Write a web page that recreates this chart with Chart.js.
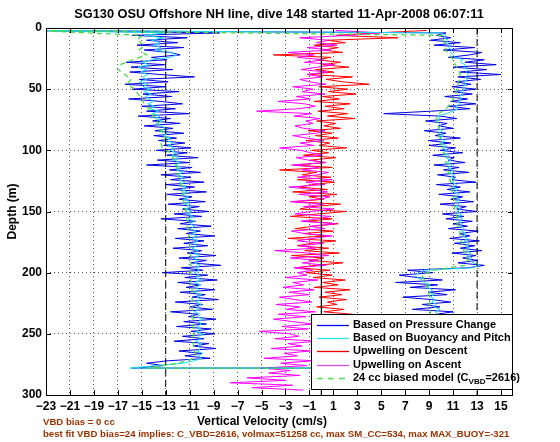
<!DOCTYPE html>
<html>
<head>
<meta charset="utf-8">
<script src="https://cdn.jsdelivr.net/npm/chart.js@4.4.1/dist/chart.umd.min.js"></script>
<style>
  html, body { margin: 0; padding: 0; background: #fff; }
</style>
</head>
<body>
<canvas id="dive_chart" width="560" height="442"></canvas>
<script>
// sample grids (depth in m)
function range(a, b, step) {
  const out = []
  if (step > 0) { for (let v = a; v <= b; v += step) out.push(v) }
  else { for (let v = a; v >= b; v += step) out.push(v) }
  return out
}
const downDepth = range(2, 278, 2)
const upDepth = range(278, 2, -2)
const modelDownDepth = range(2, 278, 4)
const modelUpDepth = range(278, 2, -4)
const redDepth = range(2, 280, 2)
const magentaDepth = range(296, 2, -2)

const xTicks = [-23, -21, -19, -17, -15, -13, -11, -9, -7, -5, -3, -1, 1, 3, 5, 7, 9, 11, 13, 15]
const xTickLabels = ['\u221223', '\u221221', '\u221219', '\u221217', '\u221215', '\u221213', '\u221211', '\u22129', '\u22127', '\u22125', '\u22123', '\u22121', '1', '3', '5', '7', '9', '11', '13', '15']
const yTicks = [0, 50, 100, 150, 200, 250, 300]
const refLines = [-13, 0, 13]

// Based on Pressure Change
const pressDown = [
  -25, -8.5, -15.8, -11.2, -14.6, -12.0, -15.4, -11.5, -14.8, -12.6,
  -11.8, -14.2, -12.9, -16.3, -13.1, -15.9, -12.4, -16.0, -13.5, -10.6,
  -15.2, -12.8, -16.4, -13.0, -15.8, -11.9, -14.9, -12.5, -16.1, -13.4,
  -11.6, -15.0, -12.2, -14.6, -11.0, -15.3, -12.6, -14.1, -11.8, -14.8,
  -12.4, -13.9, -11.5, -14.0, -12.1, -13.6, -11.4, -13.2, -10.9, -13.8,
  -11.2, -12.9, -10.3, -13.7, -11.0, -14.6, -10.8, -12.7, -10.1, -13.4,
  -10.9, -12.6, -9.8, -13.0, -10.6, -12.4, -9.6, -12.9, -10.8, -11.9,
  -9.7, -12.8, -10.2, -11.6, -9.4, -12.3, -10.0, -13.4, -10.5, -11.8,
  -9.2, -12.0, -10.1, -11.3, -8.9, -12.2, -9.8, -11.5, -9.5, -12.4,
  -10.0, -11.2, -8.8, -11.9, -9.6, -10.9, -8.4, -11.7, -9.9, -13.3,
  -9.5, -11.4, -8.7, -12.0, -10.1, -11.3, -8.9, -11.8, -9.7, -10.8,
  -8.6, -12.2, -9.9, -11.0, -9.1, -12.6, -10.3, -11.1, -8.8, -11.5,
  -9.6, -12.1, -9.2, -10.9, -8.9, -11.6, -9.8, -12.3, -9.4, -10.7,
  -8.8, -11.9, -10.0, -11.4, -9.3, -12.8, -14.6, -13.2, -15.8
]
const pressUp = [
  9.8, 8.6, 10.9, 9.2, 11.3, 8.4, 10.2, 9.0, 11.6, 9.5,
  8.2, 10.7, 9.4, 11.1, 8.8, 10.0, 7.9, 10.6, 9.1, 11.4,
  8.7, 10.3, 9.6, 11.0, 7.6, 9.9, 8.4, 10.8, 9.2, 6.8,
  10.5, 8.9, 11.2, 7.4, 9.7, 6.2, 10.1, 8.0, 6.5, 9.3,
  7.2, 12.3, 13.6, 11.4, 13.0, 11.8, 12.9, 10.9, 13.4, 11.6,
  12.8, 11.1, 13.2, 10.7, 12.4, 11.5, 13.1, 10.6, 12.2, 11.0,
  12.6, 10.4, 11.9, 10.1, 13.0, 11.3, 12.1, 9.9, 12.7, 10.8,
  11.8, 9.8, 12.4, 10.5, 11.6, 9.6, 12.9, 10.9, 11.2, 9.7,
  12.3, 10.2, 11.5, 9.4, 12.0, 10.6, 11.1, 9.3, 11.8, 9.9,
  11.2, 9.0, 10.8, 8.9, 11.6, 9.5, 10.4, 8.6, 11.0, 9.8,
  10.5, 8.7, 11.3, 9.9, 5.2, 9.2, 12.4, 10.6, 12.9, 10.8,
  12.2, 10.3, 12.6, 11.0, 12.9, 10.9, 12.5, 11.2, 13.3, 11.4,
  15.0, 11.6, 13.8, 11.0, 14.6, 12.0, 13.6, 10.6, 12.4, 13.4,
  10.2, 12.8, 9.4, 11.6, 9.1, 10.8, 9.6, 10.4, -25
]

// Based on Buoyancy and Pitch
const buoyDown = [
  -24, -13.0, -14.8, -13.2, -14.2, -13.5, -14.0, -13.4, -13.9, -12.6,
  -12.1, -12.6, -14.2, -15.0, -14.4, -15.3, -14.6, -15.1, -14.5, -14.9,
  -14.6, -15.2, -14.5, -14.9, -14.3, -14.8, -14.2, -14.7, -14.4, -14.0,
  -14.5, -13.9, -14.3, -13.6, -14.1, -13.5, -13.9, -13.3, -13.8, -13.4,
  -13.0, -13.5, -12.8, -13.2, -12.6, -12.9, -12.4, -12.8, -12.3, -12.6,
  -12.1, -12.5, -11.9, -12.3, -11.8, -12.2, -11.7, -12.1, -11.6, -12.0,
  -11.5, -11.9, -11.4, -11.8, -11.3, -11.7, -11.2, -11.6, -11.1, -11.5,
  -11.0, -11.4, -10.9, -11.3, -10.8, -11.2, -10.7, -11.1, -10.6, -11.0,
  -10.6, -10.9, -10.5, -10.8, -10.4, -10.8, -10.3, -10.7, -10.4, -10.8,
  -10.3, -10.6, -10.2, -10.7, -10.3, -10.6, -10.1, -10.5, -10.2, -10.6,
  -10.2, -10.5, -10.0, -10.6, -10.1, -10.5, -10.2, -10.6, -10.0, -10.4,
  -10.1, -10.5, -10.0, -10.4, -10.2, -10.6, -10.1, -10.4, -9.9, -10.3,
  -10.0, -10.4, -10.1, -10.5, -9.9, -10.3, -10.1, -10.5, -10.0, -10.3,
  -10.1, -10.4, -9.9, -10.3, -10.0, -10.6, -11.5, -13.8, -16.0
]
const buoyUp = [
  9.6, 9.3, 9.8, 9.4, 9.9, 9.5, 9.7, 9.3, 9.8, 9.4,
  9.6, 9.2, 9.7, 9.4, 9.9, 9.5, 9.8, 9.3, 9.6, 9.4,
  9.7, 9.3, 9.8, 9.5, 9.9, 9.4, 9.6, 9.2, 9.5, 9.1,
  9.4, 9.0, 9.3, 8.8, 9.1, 8.6, 8.4, 8.0, 7.8, 8.2,
  8.6, 12.6, 13.2, 12.7, 12.4, 12.6, 12.2, 12.5, 12.1, 12.4,
  12.0, 12.3, 11.9, 12.2, 11.8, 12.1, 11.7, 11.9, 11.6, 11.8,
  11.5, 11.8, 11.4, 11.7, 11.3, 11.6, 11.2, 11.5, 11.3, 11.6,
  11.2, 11.5, 11.1, 11.4, 11.0, 11.3, 10.9, 11.2, 10.8, 11.1,
  10.7, 11.0, 10.6, 10.9, 10.5, 10.8, 10.4, 10.6, 10.2, 10.5,
  10.1, 10.4, 10.0, 10.3, 9.9, 10.2, 9.8, 10.1, 9.8, 10.0,
  9.8, 9.6, 9.9, 9.7, 10.4, 11.0, 11.4, 11.2, 11.6, 11.4,
  11.7, 11.5, 11.8, 11.6, 12.0, 11.8, 12.1, 11.9, 12.2, 12.0,
  12.3, 12.1, 12.2, 11.9, 12.0, 11.6, 11.8, 11.2, 11.0, 10.8,
  10.9, 10.6, 10.8, 10.4, 10.6, 10.2, 10.4, 10.0, -24
]

// Upwelling on Descent / Ascent
const upwellDown = [
  8.8, 4.6, 1.2, 6.4, 0.5, 2.0, -0.6, 1.4, 0.2, 1.8,
  -4.0, 0.8, -0.4, 1.6, 0.1, 2.3, -0.5, 1.0, -1.2, 2.6,
  0.4, 1.8, 4.0, -0.2, 2.2, 0.6, 2.9, 0.1, 1.5, -0.6,
  2.4, 0.3, 1.9, -0.3, 2.2, 0.5, 2.8, -0.4, 1.2, 0.2,
  1.6, -1.1, 0.9, -0.5, 1.4, -1.3, 0.7, -0.2, 2.1, -0.8,
  0.6, -1.5, 1.2, -0.9, 0.3, -2.2, 0.9, -3.5, -0.4, -1.6,
  0.8, -2.0, 1.1, -0.7, -1.9, 0.5, -2.4, 1.3, -1.0, 0.2,
  -2.3, 1.6, -0.8, -1.8, 2.1, -0.3, -2.6, 0.9, -1.2, 1.4,
  -0.6, -2.2, 1.0, -1.5, 0.4, -2.8, 1.2, -0.9, -2.0, 0.6,
  -1.4, 1.5, -2.5, 0.2, -1.0, 1.8, -0.5, -2.1, 0.7, -1.3,
  0.9, -0.7, 2.0, 0.1, 1.4, -0.6, 2.4, 0.3, 1.7, -0.2,
  2.1, 0.5, 1.3, -0.4, 1.9, 0.2, 2.6, 0.6, 1.2, -0.3,
  1.8, 0.4, 2.2, -0.1, 1.5, 0.7, 2.0, 0.0, 1.6, -0.5,
  1.3, 0.3, 2.1, 0.5, 1.0, -0.2, 1.8, 0.4, 1.1, 0.6
]
const upwellUp = [
  -1.5, -5.8, -2.4, -7.6, -3.0, -6.2, -1.8, -4.4, -2.6, -5.0,
  -1.2, -3.4, -0.6, -4.8, -2.0, -3.1, -0.9, -4.2, -1.6, -2.8,
  -0.4, -3.9, -1.9, -2.6, -5.2, -1.1, -3.3, -0.7, -2.4, -4.0,
  -1.3, -3.6, -0.5, -2.9, -1.8, -3.8, -0.8, -2.2, -3.5, -1.0,
  -2.7, -0.6, -3.2, -1.5, -2.4, -0.3, -3.0, -1.2, -2.0, -0.7,
  -2.3, 0.4, -1.6, -0.2, -2.6, 0.6, -1.1, -3.9, -0.5, -1.8,
  0.2, -2.0, -0.7, 0.9, -1.4, -2.5, 0.3, -1.0, 1.2, -1.7,
  -0.4, 0.8, -2.2, -0.9, 1.0, -1.5, 0.2, -2.6, -0.1, 0.7,
  -1.9, 0.5, -0.8, -2.7, 0.3, -1.3, 0.9, -2.0, -0.3, 0.6,
  -1.6, -0.2, -2.5, 0.4, -1.1, -2.1, 0.1, -0.9, -1.7, -3.5,
  -0.6, -1.8, 0.2, -1.2, -2.4, -0.4, 0.3, -1.5, -2.2, -0.7,
  -1.3, -0.1, -2.3, -0.8, -5.4, -1.9, -0.5, -1.4, -3.6, -0.9,
  -2.1, 0.3, -1.6, -0.7, -2.4, 0.4, -1.0, -1.8, 0.1, -1.2,
  0.5, -1.7, -0.3, 1.1, -1.4, 0.2, -2.0, -0.6, -2.8, 0.8,
  -1.2, 1.3, -0.4, 0.6, -1.8, 2.4, 4.9, 1.2
]

// 24 cc biased model
const modelDown = [
  -24, -15.0, -15.4, -14.8, -15.2, -14.6, -15.8, -16.8, -17.0, -16.4,
  -15.9, -16.2, -15.6, -15.3, -15.0, -14.8, -14.4, -14.2, -13.9, -13.6,
  -13.6, -13.2, -13.0, -13.4, -13.3, -12.6, -12.4, -12.2, -12.1, -12.0,
  -11.9, -11.8, -11.7, -11.6, -11.6, -11.5, -11.4, -11.3, -11.3, -11.2,
  -11.2, -11.1, -11.1, -11.0, -11.0, -11.0, -10.9, -10.9, -10.9, -10.9,
  -10.9, -10.9, -10.9, -10.8, -10.8, -10.8, -10.8, -10.8, -10.8, -10.7,
  -10.7, -10.7, -10.7, -10.7, -10.7, -10.6, -10.6, -10.6, -12.0, -14.5
]
const modelUp = [
  9.4, 9.3, 9.4, 9.3, 9.3, 9.2, 9.3, 9.2, 9.2, 9.1,
  9.2, 9.1, 9.1, 9.0, 9.1, 9.0, 8.9, 8.8, 8.6, 8.4,
  9.4, 12.0, 12.2, 12.0, 11.9, 11.8, 11.7, 11.6, 11.5, 11.4,
  11.3, 11.3, 11.2, 11.1, 11.1, 11.0, 10.9, 10.9, 10.8, 10.7,
  10.6, 10.5, 10.4, 10.3, 10.2, 10.1, 10.0, 9.9, 9.8, 9.8,
  9.7, 9.6, 9.8, 10.4, 10.8, 11.0, 11.2, 11.3, 11.4, 11.5,
  11.6, 11.4, 11.2, 11.0, 10.7, 10.4, 10.3, 10.2, 10.1, -24
]

const legendItems = [
  { text: 'Based on Pressure Change', color: '#0000e0', dash: [] },
  { text: 'Based on Buoyancy and Pitch', color: '#30e0f0', dash: [] },
  { text: 'Upwelling on Descent', color: '#ee0000', dash: [] },
  { text: 'Upwelling on Ascent', color: '#cc55dd', dash: [] },
  { text: '24 cc biased model (C', sub: 'VBD', after: '=2616)', color: '#55dd55', dash: [6, 5] }
]
const titleText = 'SG130 OSU Offshore NH line, dive 148 started 11-Apr-2008 06:07:11'
const xTitle = 'Vertical Velocity (cm/s)'
const yTitle = 'Depth (m)'
const notes = ['VBD bias = 0 cc', 'best fit VBD bias=24 implies: C_VBD=2616, volmax=51258 cc, max SM_CC=534, max MAX_BUOY=-321']

function pts(depths, values) {
  return values.map((v, i) => ({ x: v, y: depths[i] }))
}
function trace(label, points, color, extra) {
  return Object.assign({
    label: label,
    data: points,
    showLine: true,
    borderColor: color,
    backgroundColor: color,
    borderWidth: 1,
    pointRadius: 0,
    tension: 0,
    clip: 0
  }, extra || {})
}

const FONT = '"Liberation Sans", Arial, Helvetica, sans-serif'

const datasets = []
refLines.forEach(v => {
  datasets.push(trace('ref', [{ x: v, y: 0 }, { x: v, y: 300 }], '#000', v === 0 ? {} : { borderDash: [7, 4] }))
})
datasets.push(trace('24 cc biased model', pts(modelDownDepth, modelDown).concat(pts(modelUpDepth, modelUp)), '#44dd44', { borderDash: [5, 4], borderWidth: 1.3 }))
datasets.push(trace('Based on Buoyancy and Pitch', pts(downDepth, buoyDown).concat(pts(upDepth, buoyUp)), '#20dcf0'))
datasets.push(trace('Based on Pressure Change', pts(downDepth, pressDown).concat(pts(upDepth, pressUp)), '#0000e0'))
datasets.push(trace('Upwelling on Ascent', pts(magentaDepth, upwellUp), '#ff00ff'))
datasets.push(trace('Upwelling on Descent', pts(redDepth, upwellDown), '#ff0000'))

const decor = {
  id: 'decor',
  afterDatasetsDraw(chart) {
    const ctx = chart.ctx
    const a = chart.chartArea
    const xs = chart.scales.x
    const ys = chart.scales.y
    ctx.save()
    ctx.strokeStyle = '#000'
    ctx.lineWidth = 1
    ctx.setLineDash([])
    ctx.beginPath()
    xTicks.forEach(v => {
      const px = Math.round(xs.getPixelForValue(v)) + 0.5
      ctx.moveTo(px, a.bottom); ctx.lineTo(px, a.bottom - 5)
      ctx.moveTo(px, a.top); ctx.lineTo(px, a.top + 5)
    })
    yTicks.forEach(v => {
      const py = Math.round(ys.getPixelForValue(v)) + 0.5
      ctx.moveTo(a.left, py); ctx.lineTo(a.left + 5, py)
      ctx.moveTo(a.right, py); ctx.lineTo(a.right - 5, py)
    })
    ctx.stroke()
    ctx.strokeRect(a.left + 0.5, a.top + 0.5, a.right - a.left - 1, a.bottom - a.top)

    // legend box
    const lx = 311, ly = 314, lw = a.right - 311, lh = 76
    ctx.fillStyle = '#fff'
    ctx.fillRect(lx, ly, lw, lh)
    ctx.strokeRect(lx + 0.5, ly + 0.5, lw - 1, lh - 1)
    ctx.textBaseline = 'middle'
    legendItems.forEach((it, i) => {
      const y = ly + 11 + i * 13.2
      ctx.strokeStyle = it.color
      ctx.lineWidth = 1.3
      ctx.setLineDash(it.dash)
      ctx.beginPath()
      ctx.moveTo(317, Math.round(y) + 0.5)
      ctx.lineTo(349, Math.round(y) + 0.5)
      ctx.stroke()
      ctx.setLineDash([])
      ctx.fillStyle = '#000'
      ctx.font = 'bold 11px ' + FONT
      ctx.fillText(it.text, 353, y)
      if (it.sub) {
        let x = 353 + ctx.measureText(it.text).width
        ctx.font = 'bold 8px ' + FONT
        ctx.fillText(it.sub, x, y + 4)
        x += ctx.measureText(it.sub).width
        ctx.font = 'bold 11px ' + FONT
        ctx.fillText(it.after, x, y)
      }
    })
    ctx.restore()
  },
  afterDraw(chart) {
    const ctx = chart.ctx
    const a = chart.chartArea
    ctx.save()
    ctx.fillStyle = '#000'
    ctx.textAlign = 'center'
    ctx.textBaseline = 'alphabetic'
    ctx.font = 'bold 12.8px ' + FONT
    ctx.fillText(titleText, 279, 18)
    ctx.font = 'bold 12px ' + FONT
    ctx.fillText(xTitle, 262, 425)
    ctx.save()
    ctx.translate(16, (a.top + a.bottom) / 2)
    ctx.rotate(-Math.PI / 2)
    ctx.fillText(yTitle, 0, 0)
    ctx.restore()
    ctx.textAlign = 'left'
    ctx.fillStyle = '#993300'
    ctx.font = 'bold 9.6px ' + FONT
    ctx.fillText(notes[0], 43, 425)
    ctx.fillText(notes[1], 43, 437)
    ctx.restore()
  }
}

const ctx = document.getElementById('dive_chart')
new Chart(ctx, {
  type: 'scatter',
  data: { datasets: datasets },
  options: {
    responsive: false,
    animation: false,
    events: [],
    layout: { padding: { left: 0, right: 47, top: 28, bottom: 0 } },
    plugins: { legend: { display: false }, tooltip: { enabled: false }, title: { display: false } },
    scales: {
      x: {
        type: 'linear',
        min: -23,
        max: 16,
        afterBuildTicks: s => { s.ticks = xTicks.map(v => ({ value: v })) },
        afterFit: s => { s.height = 47 },
        ticks: {
          autoSkip: false,
          maxRotation: 0,
          padding: 4,
          color: '#000',
          font: { family: FONT, size: 12, weight: 'bold' },
          callback: (v) => xTickLabels[xTicks.indexOf(v)]
        },
        grid: { color: '#555', lineWidth: 1, drawTicks: false },
        border: { display: false, dash: [1, 3] }
      },
      y: {
        type: 'linear',
        reverse: true,
        min: 0,
        max: 300,
        afterBuildTicks: s => { s.ticks = yTicks.map(v => ({ value: v })) },
        afterFit: s => { s.width = 46 },
        ticks: {
          padding: 4,
          color: '#000',
          font: { family: FONT, size: 12, weight: 'bold' }
        },
        grid: { color: '#555', lineWidth: 1, drawTicks: false },
        border: { display: false, dash: [1, 3] }
      }
    }
  },
  plugins: [decor]
})
</script>
</body>
</html>
